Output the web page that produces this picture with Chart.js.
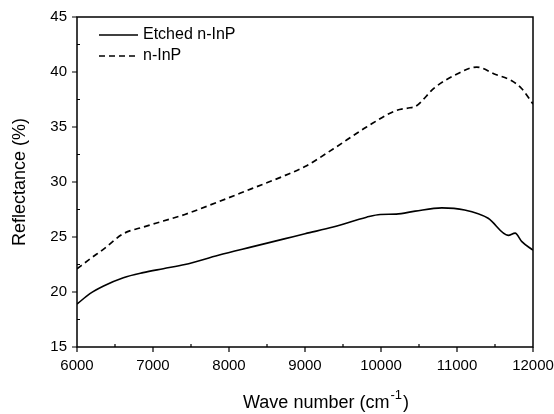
<!DOCTYPE html>
<html>
<head>
<meta charset="utf-8">
<script src="https://cdn.jsdelivr.net/npm/chart.js@4"></script>
<style>
  html, body { margin: 0; padding: 0; background: #fff; }
  #wrap { width: 554px; height: 414px; position: relative; }
</style>
</head>
<body>
<div id="wrap"><canvas id="reflChart"></canvas></div>
<script>
// wave numbers (cm-1) and reflectance (%)
const etchedWn = [6000, 6170, 6350, 6610, 6870, 7135, 7420, 7860, 8300, 8740, 9000, 9370, 9810, 9990, 10200, 10450, 10800, 11100, 11410, 11675, 11765, 11850, 12000];
const etchedR  = [18.9, 19.85, 20.55, 21.3, 21.76, 22.12, 22.5, 23.34, 24.1, 24.85, 25.3, 25.9, 26.8, 27.05, 27.08, 27.35, 27.65, 27.45, 26.7, 25.15, 25.35, 24.6, 23.8];

const plainWn = [6000, 6170, 6350, 6610, 6870, 7135, 7420, 7860, 8300, 8740, 9000, 9370, 9810, 10200, 10380, 10450, 10710, 10970, 11260, 11500, 11720, 11850, 12000];
const plainR  = [22.1, 23.0, 23.9, 25.3, 25.9, 26.45, 27.05, 28.2, 29.4, 30.6, 31.4, 33.0, 35.0, 36.5, 36.75, 36.85, 38.6, 39.7, 40.45, 39.8, 39.2, 38.5, 37.1];

const seriesNames = ['Etched n-InP', 'n-InP'];
const xMajor = [6000, 7000, 8000, 9000, 10000, 11000, 12000];
const yMajor = [15, 20, 25, 30, 35, 40, 45];

const FONT = '"Liberation Sans", Arial, sans-serif';

function toPoints(xs, ys) {
  return xs.map((x, i) => ({ x: x, y: ys[i] }));
}

// box, ticks, legend and the x title with a real superscript
const frame = {
  id: 'frame',
  afterDraw(chart) {
    const { ctx, chartArea: a, scales } = chart;
    const xs = scales.x, ys = scales.y;
    ctx.save();
    ctx.strokeStyle = '#000';
    ctx.lineWidth = 1.5;
    ctx.strokeRect(a.left, a.top, a.right - a.left, a.bottom - a.top);

    ctx.lineWidth = 1.2;
    ctx.beginPath();
    xMajor.forEach((v) => {
      const px = xs.getPixelForValue(v);
      ctx.moveTo(px, a.bottom); ctx.lineTo(px, a.bottom + 5);
    });
    for (let v = 6500; v < 12000; v += 1000) {
      const px = xs.getPixelForValue(v);
      ctx.moveTo(px, a.bottom); ctx.lineTo(px, a.bottom - 3);
    }
    yMajor.forEach((v) => {
      const py = ys.getPixelForValue(v);
      ctx.moveTo(a.left, py); ctx.lineTo(a.left - 5, py);
    });
    for (let v = 17.5; v < 45; v += 5) {
      const py = ys.getPixelForValue(v);
      ctx.moveTo(a.left, py); ctx.lineTo(a.left + 3, py);
    }
    ctx.stroke();

    // legend
    ctx.font = '16px ' + FONT;
    ctx.fillStyle = '#000';
    ctx.textBaseline = 'middle';
    chart.data.datasets.forEach((ds, i) => {
      const y = 35 + i * 21;
      ctx.beginPath();
      ctx.lineWidth = 1.5;
      ctx.setLineDash(ds.borderDash || []);
      ctx.moveTo(99, y); ctx.lineTo(138, y);
      ctx.stroke();
      ctx.setLineDash([]);
      ctx.fillText(ds.label, 143, y);
    });

    // x axis title
    const main = 'Wave number (cm';
    const sup = '-1';
    const tail = ')';
    ctx.font = '18px ' + FONT;
    const w1 = ctx.measureText(main).width;
    const w3 = ctx.measureText(tail).width;
    ctx.font = '13px ' + FONT;
    const w2 = ctx.measureText(sup).width;
    let x = 325 - (w1 + w2 + w3) / 2;
    const base = 403;
    ctx.textAlign = 'left';
    ctx.font = '18px ' + FONT;
    ctx.fillText(main, x, base);
    ctx.font = '13px ' + FONT;
    ctx.fillText(sup, x + w1 + 1, base - 8);
    ctx.font = '18px ' + FONT;
    ctx.fillText(tail, x + w1 + w2 + 2, base);
    ctx.restore();
  }
};

new Chart(document.getElementById('reflChart'), {
  type: 'scatter',
  data: {
    datasets: [
      {
        label: seriesNames[0],
        data: toPoints(etchedWn, etchedR),
        showLine: true,
        borderColor: '#000',
        borderWidth: 1.6,
        pointRadius: 0,
        cubicInterpolationMode: 'monotone',
      },
      {
        label: seriesNames[1],
        data: toPoints(plainWn, plainR),
        showLine: true,
        borderColor: '#000',
        borderWidth: 1.7,
        borderDash: [6, 4],
        pointRadius: 0,
        cubicInterpolationMode: 'monotone',
      }
    ]
  },
  options: {
    responsive: true,
    maintainAspectRatio: false,
    animation: false,
    layout: { padding: { top: 17, right: 21, left: 0, bottom: 0 } },
    scales: {
      x: {
        type: 'linear',
        min: 6000,
        max: 12000,
        afterFit: (s) => {
          s.height = 67;
          s.paddingLeft = 0;
          s.paddingRight = 0;
        },
        grid: { display: false, drawTicks: false },
        border: { display: false },
        ticks: {
          stepSize: 1000,
          padding: 10,
          color: '#000',
          font: { family: FONT, size: 15 },
          maxRotation: 0,
          callback: (v) => String(v),
        }
      },
      y: {
        min: 15,
        max: 45,
        afterFit: (s) => {
          s.width = 77;
          s.paddingTop = 0;
          s.paddingBottom = 0;
        },
        grid: { display: false, drawTicks: false },
        border: { display: false },
        ticks: {
          stepSize: 5,
          padding: 10,
          color: '#000',
          font: { family: FONT, size: 15 },
        },
        title: {
          display: true,
          text: 'Reflectance (%)',
          color: '#000',
          font: { family: FONT, size: 18 },
          padding: { top: 9, bottom: 0 },
        }
      }
    },
    plugins: {
      legend: { display: false },
      tooltip: { enabled: false }
    }
  },
  plugins: [frame]
});
</script>
</body>
</html>
